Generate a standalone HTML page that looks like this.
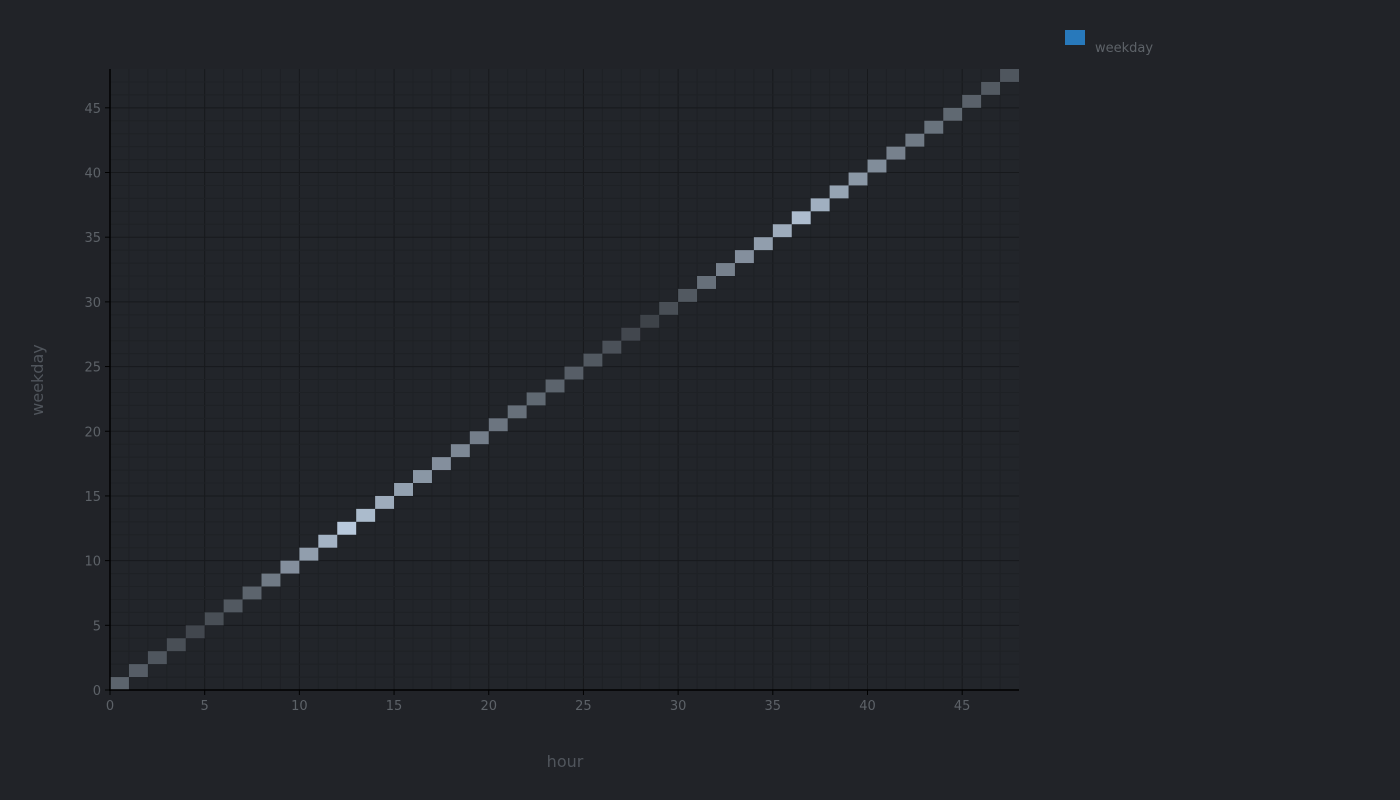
<!DOCTYPE html>
<html><head><meta charset="utf-8"><style>
html,body{margin:0;padding:0;background:#212328;width:1400px;height:800px;overflow:hidden}
svg{display:block;font-family:"DejaVu Sans","Liberation Sans",sans-serif}
</style></head><body>
<svg id="chart" width="1400" height="800">
<rect x="0" y="0" width="1400" height="800" fill="#212328"/>
<rect x="110" y="69" width="909" height="621" fill="#22252a"/>
<g id="grid"></g>
<g id="cells"></g>
<g id="axes"></g>
<text x="565" y="767" fill="#50555c" font-size="16" text-anchor="middle">hour</text>
<text x="43" y="380" fill="#50555c" font-size="16" text-anchor="middle" transform="rotate(-90 43 380)">weekday</text>
<g>
<rect x="1065" y="30" width="20" height="15" fill="#2879bb"/>
<text x="1095" y="52" fill="#5d6268" font-size="13">weekday</text>
</g>
</svg>
<script>
const hours = [0,1,2,3,4,5,6,7,8,9,10,11,12,13,14,15,16,17,18,19,20,21,22,23,24,25,26,27,28,29,30,31,32,33,34,35,36,37,38,39,40,41,42,43,44,45,46,47];
const weekdays = [0,1,2,3,4,5,6,7,8,9,10,11,12,13,14,15,16,17,18,19,20,21,22,23,24,25,26,27,28,29,30,31,32,33,34,35,36,37,38,39,40,41,42,43,44,45,46,47];
const values = [0.3,0.25,0.2,0.15,0.1,0.15,0.22,0.3,0.45,0.6,0.7,0.85,1.0,0.9,0.8,0.72,0.65,0.6,0.55,0.48,0.42,0.38,0.33,0.3,0.26,0.22,0.17,0.1,0.07,0.15,0.22,0.38,0.5,0.6,0.7,0.8,0.92,0.82,0.74,0.66,0.58,0.5,0.45,0.4,0.33,0.28,0.23,0.2];
const xTicks = [0,5,10,15,20,25,30,35,40,45];
const yTicks = [0,5,10,15,20,25,30,35,40,45];
const X0=110,X1=1019,Y0=690,Y1=69,XMAX=48,YMAX=48;
const sx=v=>X0+(X1-X0)*v/XMAX, sy=v=>Y0-(Y0-Y1)*v/YMAX;
const NS='http://www.w3.org/2000/svg';
function mk(tag,attrs,parent){const e=document.createElementNS(NS,tag);for(const k in attrs)e.setAttribute(k,attrs[k]);parent.appendChild(e);return e;}
const grid=document.getElementById('grid'),cells=document.getElementById('cells'),axes=document.getElementById('axes');
for(let i=1;i<XMAX;i++){const l=mk('line',{x1:sx(i),x2:sx(i),y1:Y1,y2:Y0,stroke:i%5==0?'#17191c':'#1e2125','stroke-width':1},grid);

}
for(let i=1;i<YMAX;i++){const l=mk('line',{x1:X0,x2:X1,y1:sy(i),y2:sy(i),stroke:i%5==0?'#17191c':'#1e2125','stroke-width':1},grid);

}
const c0=[0x35,0x39,0x3e],c1=[0xb8,0xc9,0xdc];
function col(v){return 'rgb('+c0.map((a,i)=>Math.round(a+(c1[i]-a)*v)).join(',')+')';}
hours.forEach((h,i)=>{const w=weekdays[i];
const r=mk('rect',{x:sx(h),y:sy(w+1),width:sx(h+1)-sx(h),height:sy(w)-sy(w+1),fill:col(values[i])},cells);

});
let a=mk('line',{x1:X0,x2:X0,y1:Y1,y2:Y0+1,stroke:'#000','stroke-width':1.5},axes);


a=mk('line',{x1:X0-1,x2:X1,y1:Y0,y2:Y0,stroke:'#000','stroke-width':1.5},axes);


xTicks.forEach(t=>{const tk=mk('line',{x1:sx(t),x2:sx(t),y1:Y0,y2:Y0+5,stroke:'#000'},axes);


const tx=mk('text',{x:sx(t),y:Y0+20,fill:'#5d6268','font-size':13,'text-anchor':'middle'},axes);tx.textContent=t;

});
yTicks.forEach(t=>{const tk=mk('line',{x1:X0-5,x2:X0,y1:sy(t),y2:sy(t),stroke:'#000'},axes);


const tx=mk('text',{x:X0-9,y:sy(t)+5,fill:'#5d6268','font-size':13,'text-anchor':'end'},axes);tx.textContent=t;

});
</script>
</body></html>
